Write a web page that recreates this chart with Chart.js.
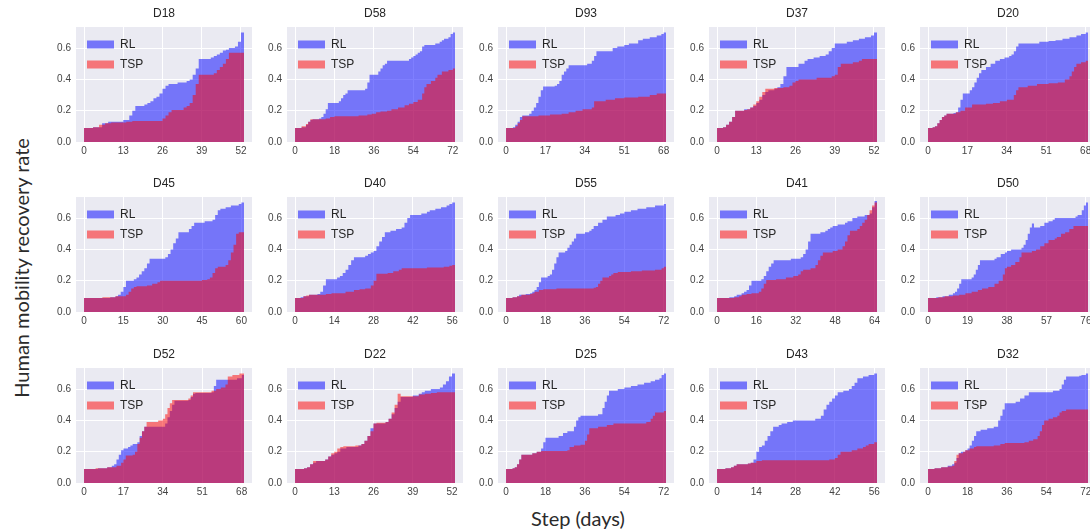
<!DOCTYPE html>
<html>
<head>
<meta charset="utf-8">
<script src="https://cdn.jsdelivr.net/npm/chart.js@4.4.1/dist/chart.umd.min.js"></script>
<style>
  html, body { margin: 0; padding: 0; background: #ffffff; }
  body { width: 1090px; height: 531px; overflow: hidden; position: relative; }
  .panel { position: absolute; }
  .axis-label {
    position: absolute;
    font-family: Lato, "Open Sans", sans-serif;
    font-size: 20px;
    color: #2b2b2b;
    white-space: nowrap;
    transform: translate(-50%, -50%);
  }
  #ylab { transform: translate(-50%, -50%) rotate(-90deg); }
</style>
</head>
<body>
<div id="ylab" class="axis-label" style="left:21px; top:268px;">Human mobility recovery rate</div>
<div class="axis-label" style="left:578px; top:518px;">Step (days)</div>
<script>
// Recovery rate per district: [step, rate] pairs, value holds until the next pair.
const D18_RL  = [[0,.09],[3,.095],[6,.12],[8,.13],[13,.14],[15,.17],[16,.2],[17,.23],[20,.24],[21,.25],[22,.26],[23,.28],[24,.29],[25,.31],[26,.34],[27,.36],[28,.37],[31,.38],[34,.39],[35,.4],[36,.43],[37,.47],[38,.53],[42,.54],[43,.55],[44,.56],[45,.57],[46,.585],[47,.59],[48,.6],[50,.61],[51,.64],[52,.70]];
const D18_TSP = [[0,.09],[3,.095],[5,.11],[7,.12],[9,.125],[14,.13],[16,.135],[26,.15],[27,.17],[28,.19],[29,.205],[33,.22],[34,.23],[35,.25],[36,.3],[37,.37],[38,.43],[43,.44],[44,.46],[45,.48],[46,.5],[47,.53],[48,.57]];

const D58_RL  = [[0,.09],[3,.095],[5,.11],[6,.13],[7,.14],[8,.145],[11,.15],[12,.16],[13,.18],[14,.21],[15,.25],[20,.26],[21,.28],[22,.3],[23,.31],[24,.33],[32,.34],[33,.38],[34,.43],[38,.45],[39,.47],[40,.49],[41,.5],[42,.52],[52,.53],[53,.54],[54,.55],[55,.56],[56,.57],[57,.58],[58,.61],[59,.62],[64,.63],[66,.64],[67,.65],[68,.66],[70,.67],[71,.69],[72,.70]];
const D58_TSP = [[0,.09],[3,.1],[5,.115],[6,.13],[7,.145],[14,.15],[16,.16],[18,.165],[29,.17],[33,.175],[35,.18],[37,.19],[39,.195],[42,.2],[44,.21],[47,.22],[50,.235],[52,.245],[54,.255],[56,.27],[58,.31],[59,.35],[60,.37],[62,.39],[64,.41],[65,.43],[67,.45],[70,.46],[72,.47]];

const D93_RL  = [[0,.09],[3,.095],[4,.11],[5,.13],[6,.16],[7,.17],[10,.18],[11,.2],[12,.22],[13,.25],[14,.29],[15,.33],[16,.355],[21,.36],[22,.37],[23,.39],[24,.43],[25,.45],[26,.47],[27,.49],[35,.5],[37,.52],[38,.55],[39,.58],[46,.6],[48,.61],[51,.62],[53,.63],[57,.65],[59,.66],[62,.67],[65,.68],[67,.69],[68,.70]];
const D93_TSP = [[0,.09],[4,.1],[5,.12],[6,.14],[7,.165],[14,.17],[19,.175],[24,.18],[27,.19],[30,.2],[33,.21],[37,.22],[38,.26],[43,.27],[47,.28],[51,.285],[57,.29],[62,.3],[65,.31]];

const D37_RL  = [[0,.09],[2,.095],[3,.11],[4,.13],[5,.16],[6,.2],[9,.21],[11,.22],[12,.23],[13,.25],[14,.27],[15,.3],[16,.32],[17,.33],[19,.34],[20,.35],[21,.37],[22,.42],[23,.48],[27,.5],[29,.52],[30,.53],[32,.54],[34,.55],[36,.56],[37,.58],[38,.6],[39,.63],[43,.64],[45,.65],[47,.66],[49,.67],[51,.68],[52,.70]];
const D37_TSP = [[0,.09],[2,.095],[3,.11],[4,.13],[5,.16],[6,.2],[9,.205],[10,.21],[11,.22],[12,.24],[13,.26],[14,.29],[15,.32],[16,.34],[19,.345],[22,.35],[24,.36],[25,.38],[26,.39],[27,.4],[33,.41],[38,.42],[39,.43],[40,.48],[41,.5],[45,.51],[47,.52],[48,.53]];

const D20_RL  = [[0,.09],[2,.095],[3,.1],[4,.12],[5,.14],[6,.16],[7,.17],[8,.18],[11,.185],[12,.19],[13,.22],[14,.27],[15,.31],[18,.33],[19,.35],[20,.38],[21,.41],[22,.44],[23,.46],[25,.48],[27,.5],[29,.52],[31,.53],[33,.54],[35,.55],[36,.56],[37,.58],[38,.61],[39,.63],[48,.64],[52,.645],[55,.65],[58,.66],[61,.67],[64,.68],[66,.69],[68,.70]];
const D20_TSP = [[0,.09],[2,.095],[3,.1],[4,.12],[5,.14],[6,.16],[7,.17],[8,.18],[12,.19],[14,.2],[16,.22],[19,.24],[25,.245],[28,.25],[31,.26],[34,.27],[37,.3],[38,.33],[39,.35],[43,.36],[47,.37],[52,.375],[56,.38],[59,.4],[61,.42],[62,.45],[63,.48],[64,.5],[66,.51],[68,.52]];

const D45_RL  = [[0,.09],[10,.095],[12,.1],[13,.11],[14,.13],[15,.16],[16,.2],[19,.21],[20,.22],[21,.24],[22,.26],[23,.28],[24,.31],[25,.34],[31,.35],[32,.37],[33,.4],[34,.44],[35,.47],[36,.51],[40,.53],[41,.55],[42,.57],[46,.58],[49,.59],[50,.62],[51,.65],[52,.66],[54,.67],[56,.68],[59,.69],[60,.70]];
const D45_TSP = [[0,.09],[7,.095],[12,.1],[16,.11],[17,.13],[18,.15],[19,.16],[20,.165],[24,.17],[26,.18],[28,.19],[29,.2],[45,.205],[47,.21],[48,.22],[49,.25],[50,.28],[51,.29],[54,.3],[55,.33],[56,.38],[57,.43],[58,.5],[59,.51]];

const D40_RL  = [[0,.09],[2,.095],[3,.1],[5,.11],[8,.115],[9,.13],[10,.17],[11,.21],[15,.22],[16,.23],[17,.25],[18,.27],[19,.3],[20,.33],[21,.35],[25,.36],[26,.37],[27,.38],[28,.39],[29,.42],[30,.45],[31,.48],[32,.51],[34,.52],[36,.53],[38,.54],[39,.57],[40,.6],[41,.62],[45,.63],[47,.64],[48,.65],[50,.66],[52,.67],[54,.68],[55,.69],[56,.70]];
const D40_TSP = [[0,.09],[3,.1],[4,.105],[5,.11],[11,.115],[13,.12],[18,.13],[21,.14],[23,.145],[25,.15],[27,.17],[28,.2],[29,.245],[33,.25],[35,.26],[37,.27],[38,.28],[47,.285],[53,.29],[55,.295],[56,.3]];

const D55_RL  = [[0,.09],[3,.095],[5,.1],[6,.11],[9,.115],[11,.12],[12,.13],[13,.14],[14,.16],[15,.19],[16,.22],[19,.23],[20,.24],[21,.27],[22,.31],[23,.35],[24,.38],[27,.39],[28,.41],[29,.43],[30,.45],[31,.47],[32,.5],[36,.51],[38,.52],[39,.53],[40,.55],[42,.57],[44,.59],[46,.61],[50,.62],[52,.63],[54,.64],[57,.65],[60,.66],[64,.67],[68,.68],[72,.69]];
const D55_TSP = [[0,.09],[3,.095],[5,.1],[7,.11],[11,.115],[12,.12],[13,.13],[15,.14],[17,.145],[23,.15],[40,.155],[41,.16],[42,.18],[43,.2],[44,.22],[47,.23],[48,.24],[49,.25],[51,.255],[57,.26],[62,.265],[68,.27],[71,.28],[72,.29]];

const D41_RL  = [[0,.09],[5,.095],[7,.1],[8,.11],[10,.12],[11,.13],[12,.14],[13,.17],[14,.2],[18,.21],[19,.23],[20,.26],[21,.29],[22,.31],[23,.33],[30,.34],[34,.35],[35,.37],[36,.4],[37,.45],[38,.5],[42,.51],[44,.52],[45,.53],[46,.54],[47,.55],[49,.56],[52,.57],[53,.58],[55,.6],[57,.61],[60,.62],[62,.63],[63,.67],[64,.71]];
const D41_TSP = [[0,.09],[7,.095],[9,.1],[10,.11],[12,.115],[14,.12],[17,.13],[18,.15],[19,.18],[20,.205],[24,.21],[28,.22],[31,.23],[33,.24],[34,.26],[35,.27],[38,.28],[40,.3],[41,.33],[42,.36],[43,.38],[47,.39],[49,.4],[51,.42],[52,.45],[53,.49],[54,.52],[57,.53],[58,.55],[59,.57],[60,.59],[61,.62],[62,.65],[63,.68],[64,.70]];

const D50_RL  = [[0,.09],[4,.095],[7,.1],[10,.11],[12,.12],[13,.13],[14,.15],[15,.18],[16,.21],[21,.22],[22,.24],[23,.27],[24,.3],[25,.33],[32,.34],[33,.35],[35,.37],[37,.38],[38,.39],[40,.4],[45,.41],[46,.43],[47,.46],[48,.5],[49,.54],[50,.565],[51,.54],[54,.55],[56,.57],[58,.58],[60,.59],[61,.6],[71,.61],[72,.62],[74,.65],[75,.68],[76,.70]];
const D50_TSP = [[0,.09],[5,.095],[8,.1],[12,.105],[15,.11],[18,.12],[21,.13],[24,.14],[26,.15],[29,.16],[32,.18],[34,.2],[36,.24],[37,.28],[38,.29],[40,.3],[42,.32],[44,.35],[45,.38],[50,.39],[52,.4],[54,.42],[56,.44],[58,.46],[61,.47],[62,.48],[64,.5],[66,.51],[68,.53],[70,.55]];

const D52_RL  = [[0,.09],[6,.095],[10,.1],[12,.11],[13,.12],[14,.15],[15,.18],[16,.21],[17,.22],[19,.23],[20,.24],[21,.25],[23,.26],[24,.3],[25,.33],[26,.36],[35,.38],[36,.42],[37,.46],[38,.5],[39,.525],[45,.53],[46,.55],[47,.57],[48,.575],[55,.58],[56,.62],[57,.66],[66,.67],[68,.69]];
const D52_TSP = [[0,.09],[5,.095],[10,.1],[14,.11],[16,.13],[17,.15],[18,.175],[21,.18],[22,.2],[23,.25],[24,.29],[25,.33],[26,.36],[27,.39],[32,.4],[34,.41],[35,.44],[36,.48],[37,.51],[38,.53],[45,.54],[46,.56],[47,.58],[55,.59],[57,.6],[59,.61],[61,.63],[62,.68],[64,.69],[67,.70]];

const D22_RL  = [[0,.09],[3,.095],[4,.1],[5,.12],[6,.13],[7,.14],[10,.15],[11,.17],[12,.18],[13,.19],[14,.2],[15,.22],[17,.23],[21,.24],[22,.25],[23,.27],[24,.3],[25,.35],[26,.38],[30,.39],[31,.41],[32,.44],[33,.48],[34,.52],[35,.55],[39,.56],[41,.57],[42,.58],[43,.59],[45,.6],[48,.61],[49,.63],[50,.65],[51,.68],[52,.70]];
const D22_TSP = [[0,.09],[3,.095],[4,.1],[5,.12],[6,.14],[10,.15],[11,.17],[12,.19],[13,.2],[14,.22],[15,.23],[16,.235],[20,.24],[22,.25],[23,.27],[24,.3],[25,.33],[26,.38],[27,.385],[30,.39],[31,.41],[32,.45],[33,.5],[34,.57],[35,.555],[41,.565],[43,.57],[45,.575],[47,.58]];

const D25_RL  = [[0,.09],[3,.095],[4,.1],[5,.12],[6,.15],[7,.18],[12,.19],[14,.2],[16,.22],[17,.26],[18,.29],[24,.3],[26,.32],[28,.33],[31,.36],[32,.4],[33,.42],[34,.43],[42,.44],[44,.48],[45,.52],[46,.56],[47,.59],[51,.6],[54,.61],[57,.62],[60,.63],[63,.64],[66,.65],[68,.66],[70,.67],[71,.69],[72,.70]];
const D25_TSP = [[0,.09],[3,.095],[4,.1],[5,.12],[6,.15],[7,.18],[12,.19],[14,.2],[16,.205],[28,.21],[29,.23],[31,.24],[34,.245],[36,.27],[37,.31],[38,.35],[42,.36],[46,.37],[49,.38],[64,.39],[66,.41],[67,.43],[68,.45],[72,.46]];

const D43_RL  = [[0,.09],[3,.095],[5,.1],[6,.11],[7,.12],[11,.125],[12,.13],[13,.15],[14,.2],[15,.23],[16,.24],[17,.27],[18,.3],[19,.33],[20,.36],[22,.37],[23,.38],[25,.39],[27,.4],[35,.41],[37,.43],[38,.47],[39,.5],[40,.52],[41,.54],[42,.56],[43,.58],[45,.59],[47,.6],[48,.62],[49,.64],[50,.67],[52,.68],[54,.69],[56,.70]];
const D43_TSP = [[0,.09],[3,.095],[5,.1],[6,.11],[7,.12],[11,.125],[12,.13],[14,.14],[16,.145],[40,.15],[42,.16],[43,.18],[44,.2],[48,.21],[50,.22],[52,.23],[53,.24],[54,.25],[56,.26]];

const D32_RL  = [[0,.09],[3,.095],[6,.1],[9,.11],[11,.12],[12,.13],[13,.16],[14,.19],[15,.2],[17,.21],[18,.22],[19,.24],[20,.27],[21,.3],[22,.33],[24,.34],[27,.35],[30,.36],[32,.4],[33,.43],[34,.47],[35,.51],[40,.52],[42,.54],[44,.56],[46,.58],[57,.59],[60,.6],[61,.63],[62,.66],[63,.68],[69,.685],[70,.69],[72,.70]];
const D32_TSP = [[0,.09],[3,.095],[6,.1],[9,.105],[11,.11],[12,.14],[13,.18],[14,.19],[16,.2],[17,.21],[19,.22],[21,.23],[22,.235],[30,.24],[33,.25],[35,.255],[44,.26],[46,.27],[48,.28],[50,.3],[51,.33],[52,.37],[53,.4],[55,.41],[57,.42],[59,.43],[60,.45],[61,.46],[63,.47]];

// Panel order (left to right, top to bottom), last step of each run, and series.
const panelNames = ['D18','D58','D93','D37','D20','D45','D40','D55','D41','D50','D52','D22','D25','D43','D32'];
const panelSteps = [52, 72, 68, 52, 68, 60, 56, 72, 64, 76, 68, 52, 72, 56, 72];
const rlSeries  = [D18_RL, D58_RL, D93_RL, D37_RL, D20_RL, D45_RL, D40_RL, D55_RL, D41_RL, D50_RL, D52_RL, D22_RL, D25_RL, D43_RL, D32_RL];
const tspSeries = [D18_TSP, D58_TSP, D93_TSP, D37_TSP, D20_TSP, D45_TSP, D40_TSP, D55_TSP, D41_TSP, D50_TSP, D52_TSP, D22_TSP, D25_TSP, D43_TSP, D32_TSP];
const yTickValues = [0, 0.2, 0.4, 0.6];
const seriesLabels = ['RL', 'TSP'];

// Grid geometry (pixels)
const colLeft = [76, 287, 498, 709, 920];
const rowTop = [27, 197, 368];
const plotW = 176, plotH = 115;
const axisW = 40, titleH = 20, axisH = 22, padR = 12;
const Y_MAX = 0.735;

Chart.defaults.font.family = "'Liberation Sans', Arial, sans-serif";
Chart.defaults.color = '#333333';

const plotBackground = {
  id: 'plotBackground',
  beforeDraw(chart) {
    const { ctx, chartArea: a } = chart;
    ctx.save();
    ctx.fillStyle = '#EAEAF2';
    ctx.fillRect(a.left, a.top, a.right - a.left, a.bottom - a.top);
    ctx.restore();
  }
};

// Legend sits inside the plot's upper-left corner, above the filled areas.
const legendOverlay = {
  id: 'legendOverlay',
  beforeLayout(chart) {
    const lg = chart.legend;
    if (lg && !lg._overlay) {
      lg._layers = () => [{ z: 10, draw: (area) => lg.draw(area) }];
      lg._overlay = true;
    }
  },
  afterLayout(chart) {
    const lg = chart.legend;
    const a = chart.chartArea;
    if (lg) {
      lg.left = a.left + 3;
      lg.top = a.top + 3.5;
      lg.right = a.right;
      lg.bottom = a.bottom;
    }
  }
};

function toPoints(pairs, steps) {
  const pts = pairs.map(([x, y]) => ({ x, y }));
  pts.push({ x: steps + 1, y: pairs[pairs.length - 1][1] });
  return pts;
}

panelNames.forEach((name, i) => {
  const row = Math.floor(i / 5), col = i % 5;
  const steps = panelSteps[i];
  const span = steps + 1;

  const wrap = document.createElement('div');
  wrap.className = 'panel';
  wrap.style.left = (colLeft[col] - axisW) + 'px';
  wrap.style.top = (rowTop[row] - titleH) + 'px';
  const canvas = document.createElement('canvas');
  canvas.width = axisW + plotW + padR;
  canvas.height = titleH + plotH + axisH;
  wrap.appendChild(canvas);
  document.body.appendChild(wrap);

  const gridOpts = { color: '#ffffff', lineWidth: 1, drawTicks: false };
  const tickFont = { size: 10 };

  new Chart(canvas, {
    type: 'line',
    data: {
      datasets: [
        {
          label: seriesLabels[0],
          data: toPoints(rlSeries[i], steps),
          backgroundColor: 'rgba(0,0,255,0.5)',
          borderColor: 'rgba(0,0,0,0)',
          borderWidth: 0,
          fill: 'origin',
          stepped: true,
          pointRadius: 0,
          order: 1
        },
        {
          label: seriesLabels[1],
          data: toPoints(tspSeries[i], steps),
          backgroundColor: 'rgba(255,0,0,0.5)',
          borderColor: 'rgba(0,0,0,0)',
          borderWidth: 0,
          fill: 'origin',
          stepped: true,
          pointRadius: 0,
          order: 0
        }
      ]
    },
    options: {
      responsive: false,
      animation: false,
      events: [],
      layout: { padding: { left: 0, right: padR, top: 0, bottom: 0 } },
      plugins: {
        title: {
          display: true,
          text: name,
          fullSize: false,
          color: '#262626',
          font: { size: 12, weight: 'normal', lineHeight: '14px' },
          padding: { top: 0, bottom: 6 }
        },
        legend: {
          position: 'chartArea',
          align: 'start',
          labels: {
            boxWidth: 27,
            boxHeight: 8,
            padding: 8,
            color: '#262626',
            font: { size: 12 },
            sort: (a, b) => a.datasetIndex - b.datasetIndex
          }
        },
        tooltip: { enabled: false }
      },
      scales: {
        x: {
          type: 'linear',
          min: -0.05 * span,
          max: 1.05 * span,
          afterBuildTicks: (s) => { s.ticks = [0, 1, 2, 3, 4].map(k => ({ value: k * steps / 4 })); },
          afterFit: (s) => { s.height = axisH; },
          ticks: { padding: 3, color: '#444444', font: tickFont, maxRotation: 0, autoSkip: false, callback: (v) => String(v) },
          grid: gridOpts,
          border: { display: false }
        },
        y: {
          min: 0,
          max: Y_MAX,
          afterBuildTicks: (s) => { s.ticks = yTickValues.map(v => ({ value: v })); },
          afterFit: (s) => { s.width = axisW; },
          ticks: { padding: 5, color: '#444444', font: tickFont, callback: (v) => v.toFixed(1) },
          grid: gridOpts,
          border: { display: false }
        }
      }
    },
    plugins: [plotBackground, legendOverlay]
  });
});
</script>
</body>
</html>
